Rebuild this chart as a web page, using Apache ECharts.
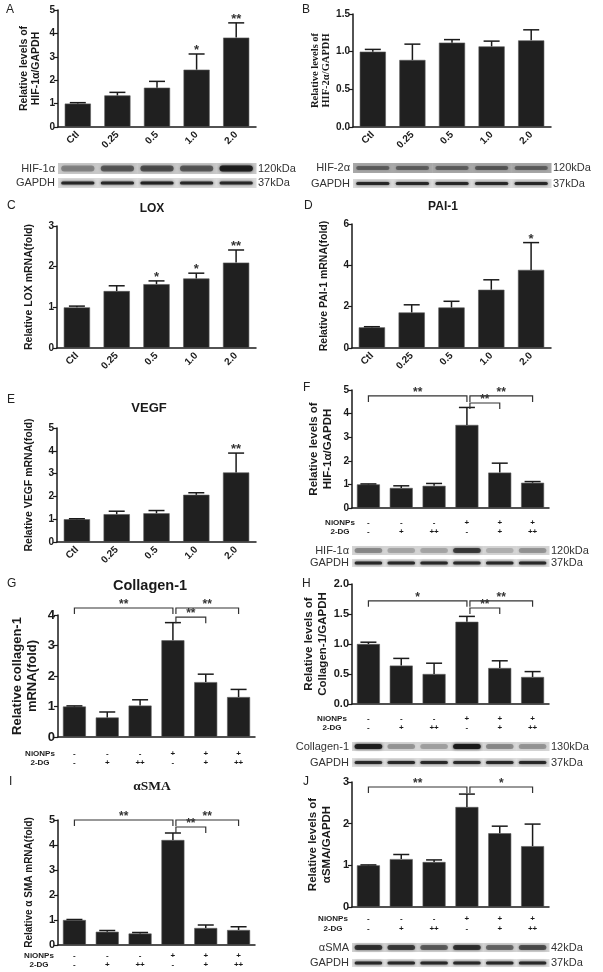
<!DOCTYPE html>
<html><head><meta charset="utf-8">
<script src="https://cdn.jsdelivr.net/npm/echarts@6/dist/echarts.min.js"></script>
<style>html,body{margin:0;padding:0;background:#fff}#c{width:603px;height:972px}</style>
</head><body><div id="c"></div><script>
// ---------- categories ----------
const doseCats = ['Ctl', '0.25', '0.5', '1.0', '2.0'];
const treatCats = ['g1', 'g2', 'g3', 'g4', 'g5', 'g6'];
const niRow = ['-', '-', '-', '+', '+', '+'];
const dgRow = ['-', '+', '++', '-', '+', '++'];

// ---------- values (mean, SEM, significance) ----------
const aMean = [1.0, 1.35, 1.68, 2.45, 3.82];
const aSem = [0.04, 0.13, 0.27, 0.67, 0.63];
const aStars = ['', '', '', '*', '**'];

const bMean = [1.0, 0.89, 1.12, 1.07, 1.15];
const bSem = [0.03, 0.21, 0.04, 0.07, 0.14];
const bStars = ['', '', '', '', ''];

const cMean = [1.0, 1.4, 1.57, 1.71, 2.1];
const cSem = [0.03, 0.13, 0.08, 0.13, 0.31];
const cStars = ['', '', '*', '*', '**'];

const dMean = [1.0, 1.72, 1.96, 2.82, 3.78];
const dSem = [0.03, 0.37, 0.3, 0.48, 1.32];
const dStars = ['', '', '', '', '*'];

const eMean = [1.0, 1.22, 1.26, 2.07, 3.05];
const eSem = [0.02, 0.13, 0.12, 0.09, 0.85];
const eStars = ['', '', '', '', '**'];

const fMean = [1.0, 0.85, 0.94, 3.52, 1.5, 1.07];
const fSem = [0.02, 0.09, 0.1, 0.74, 0.4, 0.05];
const fBrackets = [[0, 3, 4.75], [3, 4, 4.45], [3, 5, 4.75]];
const fBracketLabels = ['**', '**', '**'];

const gMean = [1.0, 0.64, 1.03, 3.17, 1.8, 1.31];
const gSem = [0.02, 0.18, 0.19, 0.58, 0.26, 0.25];
const gBrackets = [[0, 3, 4.23], [3, 4, 3.93], [3, 5, 4.23]];
const gBracketLabels = ['**', '**', '**'];

const hMean = [1.0, 0.64, 0.5, 1.37, 0.6, 0.45];
const hSem = [0.03, 0.12, 0.18, 0.09, 0.12, 0.09];
const hBrackets = [[0, 3, 1.72], [3, 4, 1.6], [3, 5, 1.72]];
const hBracketLabels = ['*', '**', '**'];

const iMean = [1.0, 0.53, 0.46, 4.2, 0.68, 0.6];
const iSem = [0.02, 0.05, 0.04, 0.28, 0.12, 0.13];
const iBrackets = [[0, 3, 5.0], [3, 4, 4.72], [3, 5, 5.0]];
const iBracketLabels = ['**', '**', '**'];

const jMean = [1.0, 1.15, 1.08, 2.4, 1.77, 1.46];
const jSem = [0.01, 0.11, 0.05, 0.31, 0.17, 0.53];
const jBrackets = [[0, 3, 2.88], [3, 5, 2.88]];
const jBracketLabels = ['**', '*'];

// ---------- western blot band intensities (0..1 darkness per lane) ----------
const aBlotHif1 = [0.35, 0.55, 0.6, 0.55, 0.92];
const aBlotGapdh = [0.85, 0.85, 0.9, 0.85, 0.85];
const bBlotHif2 = [0.45, 0.45, 0.45, 0.5, 0.45];
const bBlotGapdh = [0.85, 0.85, 0.85, 0.85, 0.85];
const fBlotHif1 = [0.35, 0.22, 0.22, 0.72, 0.18, 0.3];
const fBlotGapdh = [0.85, 0.85, 0.85, 0.85, 0.85, 0.85];
const hBlotCol1 = [0.92, 0.3, 0.25, 0.97, 0.35, 0.3];
const hBlotGapdh = [0.85, 0.85, 0.85, 0.85, 0.85, 0.85];
const jBlotSma = [0.78, 0.72, 0.55, 0.78, 0.5, 0.62];
const jBlotGapdh = [0.85, 0.85, 0.85, 0.85, 0.85, 0.85];

// ---------- styling / layout ----------
const SANS = '"Liberation Sans", Arial, sans-serif';
const SERIF = '"Liberation Serif", "Times New Roman", serif';
const INK = '#1a1a1a';

const specs = [
  { id: 'A', grid: { left: 58, top: 10, width: 198, height: 117 }, cats: doseCats, rotate: true,
    mean: aMean, sem: aSem, stars: aStars, max: 5, interval: 1, dec: 0,
    yName: 'Relative levels of\nHIF-1α/GAPDH', nameGap: 16, nameSize: 10.5, nameLH: 12, barWidth: '66%',
    blots: [
      { name: 'HIF-1α', kda: '120kDa', vals: aBlotHif1, dy: 36, h: 11, bg: '#c8c8c8', bandH: 6 },
      { name: 'GAPDH', kda: '37kDa', vals: aBlotGapdh, dy: 51, h: 10, bg: '#dadada', bandH: 3 }] },
  { id: 'B', grid: { left: 353, top: 14, width: 198, height: 113 }, cats: doseCats, rotate: true,
    mean: bMean, sem: bSem, stars: bStars, max: 1.5, interval: 0.5, dec: 1,
    yName: 'Relative levels of\nHIF-2α/GAPDH', nameGap: 15, nameSize: 10.5, nameLH: 11, nameFamily: SERIF, barWidth: '66%',
    blots: [
      { name: 'HIF-2α', kda: '120kDa', vals: bBlotHif2, dy: 36, h: 10, bg: '#a8a8a8', bandH: 4 },
      { name: 'GAPDH', kda: '37kDa', vals: bBlotGapdh, dy: 52, h: 9, bg: '#dadada', bandH: 3 }] },
  { id: 'C', grid: { left: 57, top: 226, width: 199, height: 122 }, cats: doseCats, rotate: true,
    mean: cMean, sem: cSem, stars: cStars, max: 3, interval: 1, dec: 0,
    yName: 'Relative LOX mRNA(fold)', nameGap: 22, nameSize: 10.5, nameLH: 12, barWidth: '66%' },
  { id: 'D', grid: { left: 352, top: 224, width: 199, height: 124 }, cats: doseCats, rotate: true,
    mean: dMean, sem: dSem, stars: dStars, max: 6, interval: 2, dec: 0,
    yName: 'Relative PAI-1 mRNA(fold)', nameGap: 22, nameSize: 10.5, nameLH: 12, barWidth: '66%' },
  { id: 'E', grid: { left: 57, top: 428, width: 199, height: 114 }, cats: doseCats, rotate: true,
    mean: eMean, sem: eSem, stars: eStars, max: 5, interval: 1, dec: 0,
    yName: 'Relative VEGF mRNA(fold)', nameGap: 22, nameSize: 10.5, nameLH: 12, barWidth: '66%' },
  { id: 'F', grid: { left: 352, top: 390, width: 197, height: 118 }, cats: treatCats, rotate: false,
    mean: fMean, sem: fSem, stars: null, max: 5, interval: 1, dec: 0, brackets: fBrackets, bracketLabels: fBracketLabels,
    yName: 'Relative levels of\nHIF-1α/GAPDH', nameGap: 17, nameSize: 11.5, nameLH: 14, barWidth: '70%',
    treat: { dy1: 15, dy2: 24, off: 12, size: 8 },
    blots: [
      { name: 'HIF-1α', kda: '120kDa', vals: fBlotHif1, dy: 38, h: 9, bg: '#d4d4d4', bandH: 5 },
      { name: 'GAPDH', kda: '37kDa', vals: fBlotGapdh, dy: 51, h: 8, bg: '#dedede', bandH: 3 }] },
  { id: 'G', grid: { left: 58, top: 615, width: 197, height: 122 }, cats: treatCats, rotate: false,
    mean: gMean, sem: gSem, stars: null, max: 4, interval: 1, dec: 0, brackets: gBrackets, bracketLabels: gBracketLabels,
    yName: 'Relative collagen-1\nmRNA(fold)', nameGap: 18, nameSize: 13, nameLH: 15, tickFont: 13, barWidth: '70%',
    treat: { dy1: 17, dy2: 26, off: 18, size: 8 } },
  { id: 'H', grid: { left: 352, top: 584, width: 197, height: 120 }, cats: treatCats, rotate: false,
    mean: hMean, sem: hSem, stars: null, max: 2, interval: 0.5, dec: 1, brackets: hBrackets, bracketLabels: hBracketLabels,
    yName: 'Relative levels of\nCollagen-1/GAPDH', nameGap: 22, nameSize: 11.5, nameLH: 14, tickFont: 11, barWidth: '70%',
    treat: { dy1: 15, dy2: 24, off: 20, size: 8 },
    blots: [
      { name: 'Collagen-1', kda: '130kDa', vals: hBlotCol1, dy: 38, h: 9, bg: '#d6d6d6', bandH: 5 },
      { name: 'GAPDH', kda: '37kDa', vals: hBlotGapdh, dy: 54, h: 9, bg: '#dedede', bandH: 3 }] },
  { id: 'I', grid: { left: 58, top: 820, width: 197, height: 125 }, cats: treatCats, rotate: false,
    mean: iMean, sem: iSem, stars: null, max: 5, interval: 1, dec: 0, brackets: iBrackets, bracketLabels: iBracketLabels,
    yName: 'Relative α SMA mRNA(fold)', nameGap: 23, nameSize: 10, nameLH: 12, tickFont: 11, barWidth: '70%',
    treat: { dy1: 11, dy2: 20, off: 19, size: 8 } },
  { id: 'J', grid: { left: 352, top: 782, width: 197, height: 125 }, cats: treatCats, rotate: false,
    mean: jMean, sem: jSem, stars: null, max: 3, interval: 1, dec: 0, brackets: jBrackets, bracketLabels: jBracketLabels,
    yName: 'Relative levels of\nαSMA/GAPDH', nameGap: 18, nameSize: 11.5, nameLH: 14, tickFont: 11, barWidth: '70%',
    treat: { dy1: 12, dy2: 22, off: 19, size: 8 },
    blots: [
      { name: 'αSMA', kda: '42kDa', vals: jBlotSma, dy: 36, h: 9, bg: '#d2d2d2', bandH: 5 },
      { name: 'GAPDH', kda: '37kDa', vals: jBlotGapdh, dy: 52, h: 8, bg: '#dedede', bandH: 3 }] }
];

const letters = [['A', 6, 11], ['B', 302, 11], ['C', 7, 207], ['D', 304, 207], ['E', 7, 401],
  ['F', 303, 389], ['G', 7, 585], ['H', 302, 585], ['I', 9, 783], ['J', 303, 783]];
const titles = [
  { text: 'LOX', x: 152, y: 209, size: 12, family: SANS },
  { text: 'PAI-1', x: 443, y: 207, size: 12, family: SANS },
  { text: 'VEGF', x: 149, y: 408, size: 13, family: SANS },
  { text: 'Collagen-1', x: 150, y: 586, size: 14.5, family: SANS },
  { text: 'αSMA', x: 152, y: 787, size: 13.5, family: SERIF }
];

// ---------- series builders ----------
function txt(text, x, y, font, align, vAlign, fill) {
  return { type: 'text', style: { text, x, y, font, align: align || 'center', verticalAlign: vAlign || 'middle', fill: fill || INK } };
}

function errSeries(gi, p) {
  return {
    type: 'custom', xAxisIndex: gi, yAxisIndex: gi, clip: false, silent: true, z: 4,
    encode: { x: 0, y: [1, 2] },
    data: p.mean.map((m, i) => [i, m, m + p.sem[i]]),
    renderItem(params, api) {
      const i = api.value(0), m = api.value(1), t = api.value(2);
      const p0 = api.coord([i, m]), p1 = api.coord([i, t]);
      const cap = 8;
      const st = { stroke: INK, lineWidth: 1.5 };
      const ch = [
        { type: 'line', shape: { x1: p0[0], y1: p0[1], x2: p1[0], y2: p1[1] }, style: st },
        { type: 'line', shape: { x1: p1[0] - cap, y1: p1[1], x2: p1[0] + cap, y2: p1[1] }, style: st }
      ];
      const s = p.stars ? p.stars[i] : '';
      if (s) ch.push(txt(s, p1[0], p1[1] + 3, 'bold 13px ' + SANS, 'center', 'bottom', '#333'));
      return { type: 'group', children: ch };
    }
  };
}

function bracketSeries(gi, p) {
  return {
    type: 'custom', xAxisIndex: gi, yAxisIndex: gi, clip: false, silent: true, z: 4,
    encode: { x: [0, 1], y: 2 },
    data: p.brackets.map(b => b.slice()),
    renderItem(params, api) {
      const a = api.value(0), b = api.value(1), lv = api.value(2);
      const pa = api.coord([a, lv]), pb = api.coord([b, lv]);
      const xa = pa[0] + (a > 0 ? 3 : 0), xb = pb[0], y = pa[1];
      const st = { stroke: '#333', lineWidth: 1.2 };
      const drop = 6;
      const ch = [
        { type: 'polyline', shape: { points: [[xa, y + drop], [xa, y], [xb, y], [xb, y + drop]] }, style: Object.assign({ fill: null }, st) },
        txt(p.bracketLabels[params.dataIndex], (xa + xb) / 2, y + 3, 'bold 12px ' + SANS, 'center', 'bottom', '#333')
      ];
      return { type: 'group', children: ch };
    }
  };
}

function blotSeries(gi, b) {
  const last = b.vals.length - 1;
  return {
    type: 'custom', xAxisIndex: gi, yAxisIndex: gi, clip: false, silent: true, z: 1,
    encode: { x: 0, y: 1 },
    data: b.vals.map((v, i) => [i, 0, v]),
    renderItem(params, api) {
      const i = api.value(0), v = api.value(2);
      const c = api.coord([i, 0]);
      const bw = api.size([1, 0])[0];
      const x0 = c[0] - bw / 2, y0 = c[1] + b.dy;
      const col = `rgba(25,25,25,${v})`;
      const ch = [
        { type: 'rect', shape: { x: x0, y: y0, width: bw + 0.5, height: b.h }, style: { fill: b.bg } },
        { type: 'rect', shape: { x: c[0] - bw * 0.42, y: y0 + b.h / 2 - b.bandH / 2, width: bw * 0.84, height: b.bandH, r: b.bandH / 2 },
          style: { fill: col, shadowBlur: 3, shadowColor: col } }
      ];
      if (i === 0) ch.push(txt(b.name, x0 - 3, y0 + b.h / 2, '11px ' + SANS, 'right', 'middle', '#333'));
      if (i === last) ch.push(txt(b.kda, x0 + bw + 2, y0 + b.h / 2, '11px ' + SANS, 'left', 'middle', '#333'));
      return { type: 'group', children: ch };
    }
  };
}

function treatSeries(gi, t) {
  return {
    type: 'custom', xAxisIndex: gi, yAxisIndex: gi, clip: false, silent: true, z: 5,
    encode: { x: 0, y: 1 },
    data: niRow.map((_, i) => [i, 0]),
    renderItem(params, api) {
      const i = api.value(0);
      const c = api.coord([i, 0]);
      const f = 'bold ' + t.size + 'px ' + SANS;
      const ch = [txt(niRow[i], c[0], c[1] + t.dy1, f), txt(dgRow[i], c[0], c[1] + t.dy2, f)];
      if (i === 0) {
        const bw = api.size([1, 0])[0];
        const x = c[0] - bw / 2 - t.off;
        ch.push(txt('NiONPs', x, c[1] + t.dy1, f), txt('2-DG', x, c[1] + t.dy2, f));
      }
      return { type: 'group', children: ch };
    }
  };
}

// ---------- build option ----------
const grids = [], xAxes = [], yAxes = [], series = [];
specs.forEach((p, gi) => {
  grids.push(Object.assign({}, p.grid));
  xAxes.push({
    type: 'category', gridIndex: gi, data: p.cats, boundaryGap: true,
    axisLine: { lineStyle: { color: INK, width: 1.5 } },
    axisTick: { alignWithLabel: true, length: 4, lineStyle: { color: INK, width: 1.2 } },
    axisLabel: p.rotate ? { rotate: 45, margin: 6, interval: 0, fontFamily: SANS, fontWeight: 'bold', fontSize: 10, color: INK } : { show: false }
  });
  yAxes.push({
    type: 'value', gridIndex: gi, min: 0, max: p.max, interval: p.interval,
    axisLine: { show: true, lineStyle: { color: INK, width: 1.5 } },
    axisTick: { show: true, length: 4, lineStyle: { color: INK, width: 1.2 } },
    splitLine: { show: false },
    axisLabel: { margin: 3, fontFamily: SANS, fontWeight: 'bold', fontSize: p.tickFont || 10, color: INK,
      formatter: v => v.toFixed(p.dec) },
    name: p.yName, nameLocation: 'middle', nameGap: p.nameGap, nameRotate: 90,
    nameTextStyle: { fontFamily: p.nameFamily || SANS, fontWeight: 'bold', fontSize: p.nameSize, lineHeight: p.nameLH, color: INK }
  });
  series.push({
    type: 'bar', xAxisIndex: gi, yAxisIndex: gi, data: p.mean, barWidth: p.barWidth, silent: true, z: 2,
    itemStyle: { color: '#202020', borderColor: '#5a5a5a', borderWidth: 0.6 }
  });
  series.push(errSeries(gi, p));
  if (p.brackets) series.push(bracketSeries(gi, p));
  if (p.blots) p.blots.forEach(b => series.push(blotSeries(gi, b)));
  if (p.treat) series.push(treatSeries(gi, p.treat));
});

const graphic = [];
letters.forEach(([t, x, y]) => graphic.push({ type: 'text', left: x, top: y - 7, style: { text: t, font: '12px ' + SANS, fill: '#222' } }));
titles.forEach(t => graphic.push({ type: 'text', x: t.x, y: t.y, style: { text: t.text, font: 'bold ' + t.size + 'px ' + t.family, fill: INK, align: 'center', verticalAlign: 'middle' } }));

const chart = echarts.init(document.getElementById('c'), null, { renderer: 'canvas' });
chart.setOption({ animation: false, backgroundColor: '#fff', grid: grids, xAxis: xAxes, yAxis: yAxes, series, graphic });
</script></body></html>
